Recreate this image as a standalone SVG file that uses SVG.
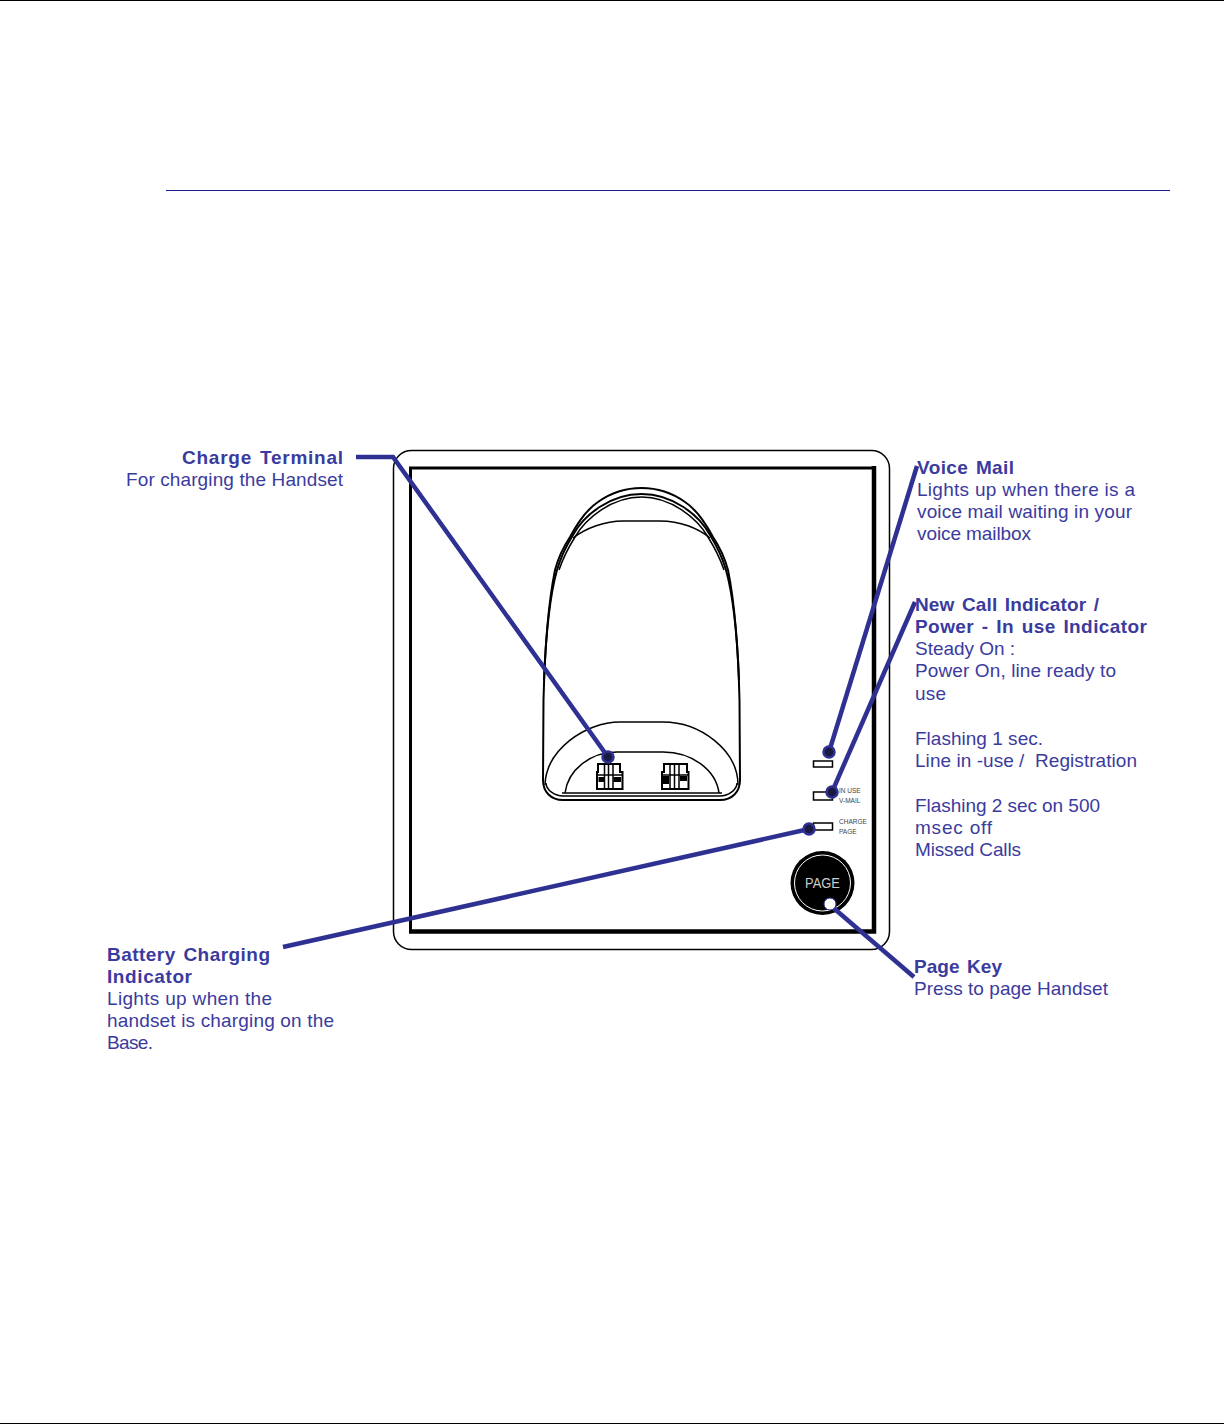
<svg xmlns="http://www.w3.org/2000/svg" width="1224" height="1424" viewBox="0 0 1224 1424">
<style>
.o{fill:none;stroke:#000;stroke-width:1.5}
.m{fill:none;stroke:#000;stroke-width:2}
.c{fill:none;stroke:#2e3192;stroke-width:4.500}
.d{fill:#1a1a40;stroke:#2e3192;stroke-width:2.500}
text{font-family:"Liberation Sans",Arial,sans-serif;font-size:19px;fill:#3b3b9e}
.b{font-weight:bold;word-spacing:2px}
.s{font-size:6.500px;fill:#444}
</style>
<rect width="1224" height="1424" fill="#fff"/>
<g id="page-frame">
<line x1="0" y1="0.5" x2="1224" y2="0.5" stroke="#000"/>
<line x1="0" y1="1423.5" x2="1224" y2="1423.5" stroke="#000"/>
<line x1="166" y1="190.5" x2="1170" y2="190.5" stroke="#1a1a8c"/>
</g>
<g id="base">
<rect class="o" x="393.500" y="450.500" width="496" height="499" rx="18"/>
<path fill="none" stroke="#000" stroke-width="3" d="M410.500 931V468H873"/>
<path fill="none" stroke="#000" stroke-width="4.500" d="M874 466V931.500H409"/>
</g>
<g id="handset">
<path class="m" d="M543 780L543.500 700C545 640 549 600 555 570C559 555 564 546 570 537C578 522 586 510 598 502C612 492 628 488 641.500 488C655 488 671 492 685 502C697 510 705 522 713 537C719 546 724 555 728 570C734 600 738 640 739.500 700L740 780C740 792 732 800 720 800L563 800C551 800 543 792 543 780Z"/>
<path class="m" d="M544 680C546 630 550 595 557 570C562 553 568 543 573 535C584 515 610 494 641.500 494C673 494 699 515 710 535C715 543 721 553 726 570C733 595 737 630 739 680"/>
<path class="o" d="M559 570C564 555 570 545 575 537C586 518 612 497 641.500 497C671 497 697 518 708 537C713 545 719 555 724 570"/>
<path class="o" d="M573 538C586 528 605 521 623 521L660 521C680 521 698 528 710 538"/>
<path class="o" d="M545 785C546 750 585 722 620 722L663 722C700 722 738 750 738 785"/>
<path class="o" d="M565 793C568 770 590 752 617 752L663 752C692 752 716 770 719 793"/>
<path class="o" d="M546 783C546 790 555 796 563 796H720C728 796 737 790 737 783"/>
<line class="o" x1="562" y1="793" x2="722" y2="793"/>
</g>
<g id="terminals" fill="none" stroke="#000" stroke-width="1.500">
<path d="M598 764H620V772H622.500V789H597V772H598Z" stroke-width="2"/>
<path d="M604.500 764V789M608.500 764V789M613 764V789M598 775H622" stroke-width="1.500"/>
<path d="M598.500 777H604V782H598.500ZM613.500 777H621V782H613.500Z" fill="#000" stroke="none"/>
<path d="M664 764H687V772H688.500V789H662V772H664Z" stroke-width="2"/>
<path d="M670 764V789M674.500 764V789M679 764V789M662 775H688" stroke-width="1.500"/>
<path d="M663 776H669V784H663ZM680 776H687V781H680Z" fill="#000" stroke="none"/>
</g>
<g id="indicators">
<rect class="o" x="813.500" y="761" width="19" height="6"/>
<rect class="o" x="813.500" y="792" width="19" height="8"/>
<rect class="o" x="813.500" y="823" width="19" height="7"/>
<text class="s" x="839" y="793">IN USE</text>
<text class="s" x="839" y="803">V-MAIL</text>
<text class="s" x="839" y="824">CHARGE</text>
<text class="s" x="839" y="834">PAGE</text>
</g>
<g id="page-key">
<circle cx="822.500" cy="883" r="32" fill="#000"/>
<circle cx="822.500" cy="883" r="28" fill="none" stroke="#fff" stroke-width="1"/>
<text x="805" y="888" textLength="35" lengthAdjust="spacingAndGlyphs" style="font-size:15px;fill:#ccc">PAGE</text>
</g>
<g id="connectors">
<path class="c" d="M356 457H393L608 757"/>
<line class="c" x1="917" y1="466" x2="829" y2="752"/>
<line class="c" x1="915" y1="602" x2="832" y2="792"/>
<line class="c" x1="283" y1="947" x2="809" y2="829"/>
<line class="c" x1="914" y1="977" x2="830" y2="905"/>
<circle class="d" cx="608" cy="757" r="5.500"/>
<circle class="d" cx="829" cy="752" r="5.500"/>
<circle class="d" cx="832" cy="792" r="5.500"/>
<circle class="d" cx="809" cy="829" r="5.500"/>
<circle cx="830" cy="904" r="6" fill="#fff" stroke="#2e3192" stroke-width="1"/>
</g>
<g id="charge-terminal-label">
<text class="b" x="182" y="464" textLength="161">Charge Terminal</text>
<text x="126" y="486" textLength="217">For charging the Handset</text>
</g>
<g id="voice-mail-label">
<text class="b" x="917" y="474" textLength="97">Voice Mail</text>
<text x="917" y="496" textLength="218">Lights up when there is a</text>
<text x="917" y="518" textLength="215">voice mail waiting in your</text>
<text x="917" y="540" textLength="114">voice mailbox</text>
</g>
<g id="new-call-label">
<text class="b" x="915" y="611" textLength="184">New Call Indicator /</text>
<text class="b" x="915" y="633" textLength="232">Power - In use Indicator</text>
<text x="915" y="655" textLength="100">Steady On :</text>
<text x="915" y="677" textLength="201">Power On, line ready to</text>
<text x="915" y="700" textLength="31">use</text>
<text x="915" y="745" textLength="128">Flashing 1 sec.</text>
<text x="915" y="767" textLength="222" xml:space="preserve">Line in -use /  Registration</text>
<text x="915" y="812" textLength="185">Flashing 2 sec on 500</text>
<text x="915" y="834" textLength="77">msec off</text>
<text x="915" y="856" textLength="106">Missed Calls</text>
</g>
<g id="page-key-label">
<text class="b" x="914" y="973" textLength="88">Page Key</text>
<text x="914" y="995" textLength="194">Press to page Handset</text>
</g>
<g id="battery-label">
<text class="b" x="107" y="961" textLength="163">Battery Charging</text>
<text class="b" x="107" y="983" textLength="85">Indicator</text>
<text x="107" y="1005" textLength="165">Lights up when the</text>
<text x="107" y="1027" textLength="227">handset is charging on the</text>
<text x="107" y="1049" textLength="46">Base.</text>
</g>
</svg>
